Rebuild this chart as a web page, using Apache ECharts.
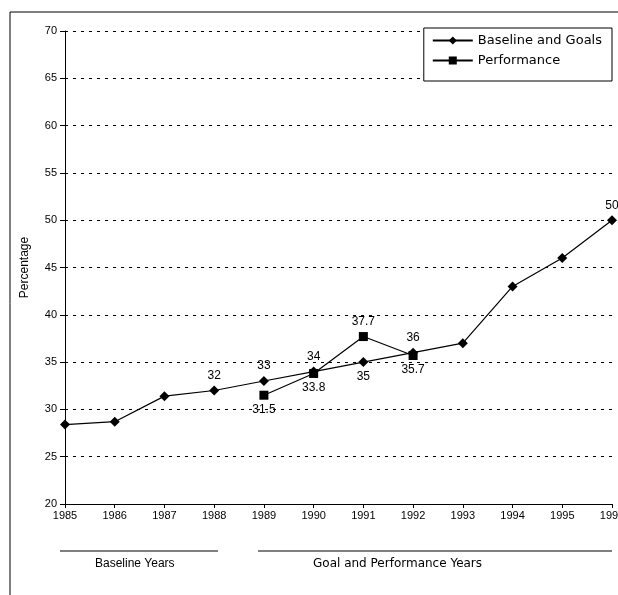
<!DOCTYPE html>
<html><head><meta charset="utf-8">
<script src="https://cdn.jsdelivr.net/npm/echarts@6/dist/echarts.min.js"></script>
<style>html,body{margin:0;padding:0;background:#fff}#c{width:618px;height:595px}</style>
</head><body><div id="c"></div>
<script>
const years = [1985,1986,1987,1988,1989,1990,1991,1992,1993,1994,1995,1996];
const baseline = [28.4,28.7,31.4,32,33,34,35,36,37,43,46,50];
const perfYears = [1989,1990,1991,1992];
const performance = [31.5,33.8,37.7,35.7];
const baselineLabeled = {1988:'top',1989:'top',1990:'top',1991:'bottom',1992:'top',1996:'top'};
const perfLabelPos = ['bottom','bottom','top','bottom'];
const yTicks = [20,25,30,35,40,45,50,55,60,65,70];

const font = 'Liberation Sans, Arial, sans-serif';
const chart = echarts.init(document.getElementById('c'));
chart.setOption({
  animation:false,
  textStyle:{fontFamily:font,color:'#000'},
  grid:{left:65,top:31,right:6,bottom:91,containLabel:false,outerBoundsMode:'none'},
  xAxis:{type:'value',min:1985,max:1996,interval:1,
    axisLine:{lineStyle:{color:'#000',width:1}},
    axisTick:{lineStyle:{color:'#000'},length:4},
    axisLabel:{color:'#000',fontSize:11,margin:6,formatter:v=>String(v)},
    splitLine:{show:false}},
  yAxis:{type:'value',min:yTicks[0],max:yTicks[yTicks.length-1],interval:5,
    name:'Percentage',nameLocation:'middle',nameGap:34,nameRotate:90,
    nameTextStyle:{color:'#000',fontSize:12},
    axisLine:{show:true,lineStyle:{color:'#000',width:1}},
    axisTick:{show:true,lineStyle:{color:'#000'},length:5},
    axisLabel:{color:'#000',fontSize:11,margin:8},
    splitLine:{show:true,lineStyle:{color:'#000',type:[3,5],width:1}}},
  legend:{right:6,top:28,orient:'vertical',backgroundColor:'#fff',borderColor:'#000',borderWidth:1,
    padding:[6,10,14,8],itemGap:7,itemWidth:40,itemHeight:10,
    textStyle:{color:'#000',fontSize:13,fontFamily:'DejaVu Sans, sans-serif'},
    data:['Baseline and Goals','Performance']},
  series:[
    {name:'Baseline and Goals',type:'line',symbol:'diamond',symbolSize:10,
     itemStyle:{color:'#000'},lineStyle:{color:'#000',width:1.2},
     data:years.map((y,i)=>{
       const p = baselineLabeled[y];
       const d = {value:[y,baseline[i]]};
       if(p) d.label={show:true,position:p,distance:4,color:'#000',fontSize:12,fontFamily:font,formatter:String(baseline[i])};
       return d;
     }),z:3},
    {name:'Performance',type:'line',symbol:'rect',symbolSize:9,
     itemStyle:{color:'#000'},lineStyle:{color:'#000',width:1.2},
     data:perfYears.map((y,i)=>({value:[y,performance[i]],
       label:{show:true,position:perfLabelPos[i],distance:4,color:'#000',fontSize:12,fontFamily:font,formatter:String(performance[i])}})),z:4}
  ],
  graphic:[
    {type:'line',shape:{x1:10,y1:12,x2:618,y2:12},style:{stroke:'#000',lineWidth:1}},
    {type:'line',shape:{x1:10,y1:12,x2:10,y2:595},style:{stroke:'#000',lineWidth:1}},
    {type:'line',shape:{x1:60,y1:551,x2:218,y2:551},style:{stroke:'#000',lineWidth:1.2}},
    {type:'line',shape:{x1:258,y1:551,x2:612,y2:551},style:{stroke:'#000',lineWidth:1.2}},
    {type:'text',left:95,top:558,style:{text:'Baseline Years',fill:'#000',font:'12px '+font}},
    {type:'text',left:313,top:558,style:{text:'Goal and Performance Years',fill:'#000',font:'12px DejaVu Sans, sans-serif'}}
  ]
});
</script></body></html>
